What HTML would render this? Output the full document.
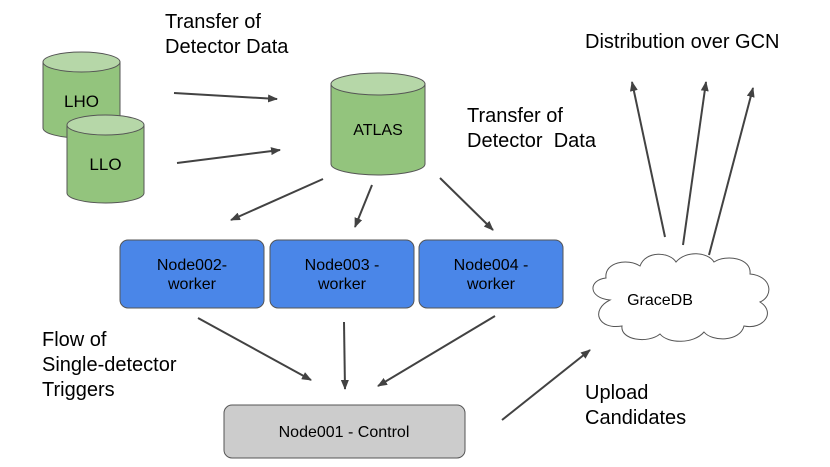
<!DOCTYPE html>
<html><head><meta charset="utf-8"><style>
html,body{margin:0;padding:0;background:#fff;}
svg{display:block;font-family:"Liberation Sans",Arial,sans-serif;}
</style></head><body>
<svg width="830" height="467" viewBox="0 0 830 467" xmlns="http://www.w3.org/2000/svg">
<defs>
<marker id="a" markerWidth="10" markerHeight="8" refX="9" refY="4" orient="auto" markerUnits="userSpaceOnUse">
<path d="M0,0 L10,4 L0,8 Z" fill="#424242"/></marker>
</defs>
<g fill="#000" font-size="20">
<text x="165" y="28">Transfer of</text>
<text x="165" y="53">Detector Data</text>
<text x="585" y="48">Distribution over GCN</text>
<text x="467" y="122">Transfer of</text>
<text x="467" y="147">Detector&#160; Data</text>
<text x="42" y="346">Flow of</text>
<text x="42" y="371">Single-detector</text>
<text x="42" y="396">Triggers</text>
<text x="585" y="399">Upload</text>
<text x="585" y="424">Candidates</text>
</g>
<!-- cylinders -->
<g stroke="#555" stroke-width="1">
<path d="M43,62 L43,128 A38.5,10 0 0 0 120,128 L120,62 Z" fill="#93c47d"/>
<ellipse cx="81.5" cy="62" rx="38.5" ry="10" fill="#b6d7a8"/>
<path d="M67,125 L67,193 A38.5,10 0 0 0 144,193 L144,125 Z" fill="#93c47d"/>
<ellipse cx="105.5" cy="125" rx="38.5" ry="10" fill="#b6d7a8"/>
<path d="M331,84 L331,164 A47,11 0 0 0 425,164 L425,84 Z" fill="#93c47d"/>
<ellipse cx="378" cy="84" rx="47" ry="11" fill="#b6d7a8"/>
</g>
<g font-size="17" text-anchor="middle" fill="#000">
<text x="81.5" y="107">LHO</text>
<text x="105.5" y="170">LLO</text>
<text x="378" y="135" font-size="16">ATLAS</text>
</g>
<!-- worker nodes -->
<g stroke="#555" stroke-width="1" fill="#4a86e8">
<rect x="120" y="240" width="144" height="68" rx="8"/>
<rect x="270" y="240" width="144" height="68" rx="8"/>
<rect x="419" y="240" width="144" height="68" rx="8"/>
</g>
<rect x="224" y="405" width="241" height="53" rx="8" fill="#cccccc" stroke="#555"/>
<g font-size="16" text-anchor="middle" fill="#000">
<text x="192" y="270">Node002-</text><text x="192" y="289">worker</text>
<text x="342" y="270">Node003 -</text><text x="342" y="289">worker</text>
<text x="491" y="270">Node004 -</text><text x="491" y="289">worker</text>
<text x="344" y="437">Node001 - Control</text>
</g>
<!-- cloud -->
<path d="M610,300 C588,298 588,280 606,278 C604,262 628,258 640,266 C646,250 670,252 676,262 C686,250 708,252 714,262 C726,254 752,258 750,274 C772,276 774,296 760,302 C776,312 764,330 744,326 C740,342 712,342 704,332 C694,344 668,344 660,334 C648,344 620,340 622,326 C598,330 590,310 610,300 Z" fill="#fff" stroke="#555"/>
<text x="660" y="305" font-size="16" text-anchor="middle">GraceDB</text>
<!-- arrows -->
<g stroke="#424242" stroke-width="2" marker-end="url(#a)">
<line x1="174" y1="93" x2="277" y2="99"/>
<line x1="177" y1="163" x2="280" y2="150"/>
<line x1="323" y1="179" x2="231" y2="220"/>
<line x1="372" y1="185" x2="355" y2="227"/>
<line x1="440" y1="178" x2="493" y2="230"/>
<line x1="198" y1="318" x2="311" y2="380"/>
<line x1="344" y1="322" x2="345" y2="389"/>
<line x1="495" y1="316" x2="378" y2="386"/>
<line x1="502" y1="420" x2="590" y2="350"/>
<line x1="665" y1="237" x2="632" y2="82"/>
<line x1="683" y1="245" x2="706" y2="82"/>
<line x1="709" y1="255" x2="753" y2="88"/>
</g>
</svg>
</body></html>
